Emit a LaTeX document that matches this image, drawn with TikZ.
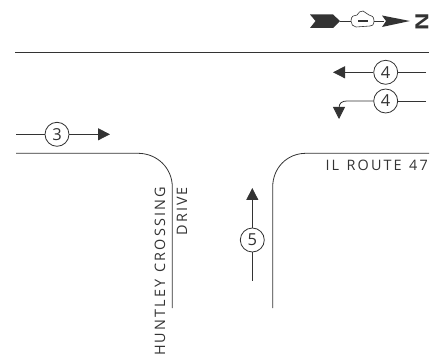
\documentclass[tikz,border=0pt]{standalone}
\usepackage{fontspec}
\setmainfont{DejaVu Sans}
\newfontfamily\labelfont[LetterSpace=14.5,WordSpace=1.3]{Open Sans}
\newfontfamily\digitfont{Open Sans}
\newfontfamily\northfont{Liberation Sans}
\usetikzlibrary{arrows.meta}
\definecolor{ink}{HTML}{333333}
\tikzset{
  road/.style={draw=ink,line width=0.8pt},
  move/.style={draw=ink,line width=0.8pt},
  headtip/.style={-{Triangle[length=12pt,width=12pt]}},
  vol/.style={circle,draw=ink,line width=0.8pt,minimum size=24pt,inner sep=0pt,font=\digitfont\fontsize{16.5}{16.5}\selectfont,text=ink,fill=white},
  label/.style={text=ink,inner sep=0pt,font=\labelfont\fontsize{14.4}{15}\selectfont},
}
\begin{document}
\begin{tikzpicture}[x=1pt,y=-1pt]
\useasboundingbox (0,0) rectangle (431,358);
% named points
\coordinate (topL) at (15,52.5);
\coordinate (topR) at (429,52.5);
\coordinate (wL) at (16,153.3);
\coordinate (wA) at (138,153.3);
\coordinate (wB) at (172.3,187);
\coordinate (wE) at (172.3,308);
\coordinate (eE) at (272.7,308);
\coordinate (eB) at (272.7,187);
\coordinate (eA) at (306,153.3);
\coordinate (eR) at (429,153.3);
% roads
\draw[road] (topL) -- (topR);
\draw[road] (wL) -- (wA) .. controls (157,153.3) and (172.3,168) .. (wB) -- (wE);
\draw[road] (eE) -- (eB) .. controls (272.7,168) and (287,153.3) .. (eA) -- (eR);
% volumes
\node[vol] (v4a) at (385.7,72.3) {4};
\node[vol] (v4b) at (385.7,101) {4};
\node[vol] (v3) at (57,134.3) {3};
\node[vol] (v5) at (252.3,240) {5};
\coordinate (a4aR) at (426,72.3);
\coordinate (a4aT) at (333,72.3);
\coordinate (a4bR) at (426,101);
\coordinate (a4bT) at (339,119);
\coordinate (a3L) at (16,134.3);
\coordinate (a3T) at (110,134.3);
\coordinate (a5B) at (252.3,280.7);
\coordinate (a5T) at (252.3,188);
\draw[move] (a4aR) -- (v4a);
\draw[move,headtip] (v4a) -- (a4aT);
\draw[move] (a4bR) -- (v4b);
\draw[move,headtip] (v4b.west) -- (347,101) .. controls (342,101) and (339,103) .. (339,108) -- (a4bT);
\draw[move] (a3L) -- (v3);
\draw[move,headtip] (v3) -- (a3T);
\draw[move] (a5B) -- (v5);
\draw[move,headtip] (v5) -- (a5T);
% street labels
\node[label,anchor=east] (il) at (428,165) {IL ROUTE 47};
\node[label,anchor=east,rotate=90] (hc) at (160,187) {HUNTLEY CROSSING};
\node[label,anchor=east,rotate=90] (dr) at (182,187) {DRIVE};
% north arrow
\fill[ink] (310,14.5) -- (333,14.5) -- (340,21) -- (333,28) -- (310,28) -- (315.5,21) -- cycle;
\draw[ink,line width=0.7pt] (340,21) -- (351,21);
\draw[ink,line width=0.6pt] (351,21) .. controls (351,16) and (354,15) .. (357,15)
  .. controls (358,12) and (361,11) .. (363,11)
  .. controls (365,12) and (367,14) .. (369,15)
  .. controls (372,15) and (374,17) .. (374,21)
  .. controls (374,25) and (372,26) .. (370,26)
  -- (356,27) .. controls (353,27) and (351,24) .. (351,21);
\draw[ink,line width=1.5pt] (358,21) -- (368,21);
\draw[ink,line width=0.7pt] (374,21) -- (384,21);
\fill[ink] (382,15.5) -- (410,21) -- (382,27) -- (386,21) -- cycle;
\node[text=ink,inner sep=0pt,rotate=90,font=\northfont\bfseries\fontsize{24}{24}\selectfont] (north) at (422,21.5) {\scalebox{1}[0.78]{N}};
\end{tikzpicture}
\end{document}
